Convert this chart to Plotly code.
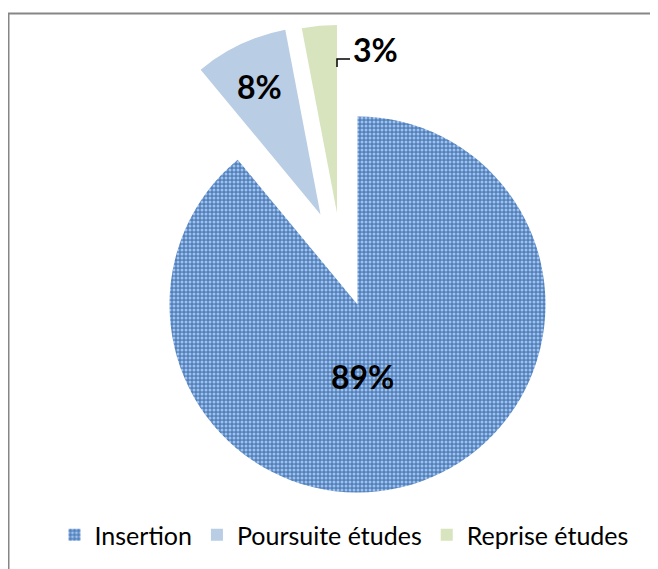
import plotly.graph_objects as go

labels = ["Insertion", "Poursuite études", "Reprise études"]
values = [89, 8, 3]
colors = ["#4f81bd", "#b9cde5", "#d7e4bd"]

# page body adds an 8px margin, so work in window pixels and shift back
OFF = 8
W, H = 650, 561
R = 188
# pixel centre of each slice's pie: Excel "exploded" the two small slices
centres = [(357.5, 304.5), (320.5, 214.5), (337.0, 213.0)]
# where Excel put each percentage label (window pixels)
label_pos = [(363, 376), (259, 86), (375, 49)]
CLEAR = "rgba(0,0,0,0)"
FONT = "Lato, 'Open Sans', sans-serif"
PATTERN = dict(fgcolor="#a3c0ea", bgcolor=colors[0], size=4, solidity=0.45)


def px_x(x):
    return (x - OFF) / W


def px_y(y):
    return 1 - (y - OFF) / H


fig = go.Figure()

# legend-only trace (tiny, invisible pie)
fig.add_trace(go.Pie(
    labels=labels, values=values, sort=False, direction="clockwise",
    marker=dict(colors=colors, pattern=dict(shape=[".", "", ""], **PATTERN)),
    domain=dict(x=[0.5, 0.5005], y=[0.5, 0.5005]),
    textinfo="none", hoverinfo="skip", showlegend=True,
))

for i, (cx, cy) in enumerate(centres):
    cols = [c if j == i else CLEAR for j, c in enumerate(colors)]
    shapes = ["." if (j == 0 and i == 0) else "" for j in range(len(values))]
    fig.add_trace(go.Pie(
        labels=labels, values=values, sort=False, direction="clockwise",
        marker=dict(colors=cols, line=dict(width=0), pattern=dict(shape=shapes, **PATTERN)),
        domain=dict(x=[px_x(cx - R), px_x(cx + R)], y=[px_y(cy + R), px_y(cy - R)]),
        textinfo="none", showlegend=False, hoverinfo="label+percent",
    ))

total = sum(values)
for v, (lx, ly) in zip(values, label_pos):
    fig.add_annotation(x=px_x(lx), y=px_y(ly), xref="paper", yref="paper",
                       xanchor="center", yanchor="middle",
                       text=f"{round(v / total * 100)}%", showarrow=False,
                       font=dict(family=FONT, size=32, color="black", weight="bold"))

# leader line for the outside label of the smallest slice
fig.add_shape(type="path", xref="paper", yref="paper",
              path=f"M {px_x(350)},{px_y(59)} L {px_x(337)},{px_y(59)} L {px_x(337)},{px_y(67)}",
              line=dict(color="black", width=1.5))

# chart-area border (only top and left edges are in the crop)
fig.add_shape(type="rect", xref="paper", yref="paper",
              x0=px_x(8.5), y0=-0.05, x1=1.05, y1=px_y(13.5),
              line=dict(color="#868686", width=2), layer="below")

fig.update_layout(
    width=W, height=H, autosize=False,
    margin=dict(l=0, r=0, t=0, b=0),
    paper_bgcolor="white", plot_bgcolor="white",
    font=dict(family=FONT, color="black"),
    legend=dict(orientation="h", x=px_x(344), xanchor="center", y=px_y(535), yanchor="middle",
                font=dict(family=FONT, size=25, color="black"), traceorder="normal"),
)

fig.write_html("out.html")
